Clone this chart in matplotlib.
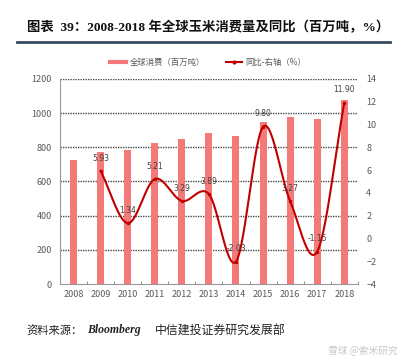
import numpy as np
import matplotlib
matplotlib.use("Agg")
import matplotlib.pyplot as plt
from matplotlib.lines import Line2D

plt.rcParams['font.family'] = ['Noto Sans CJK SC', 'DejaVu Sans']

years = ['2008', '2009', '2010', '2011', '2012', '2013', '2014', '2015', '2016', '2017', '2018']
consumption = [727, 773, 782, 823, 847, 884, 864, 950, 979, 966, 1079]
yoy_years = ['2009', '2010', '2011', '2012', '2013', '2014', '2015', '2016', '2017', '2018']
yoy = [5.93, 1.34, 5.21, 3.29, 3.89, -2.03, 9.80, 3.27, -1.15, 11.90]
left_ticks = [0, 200, 400, 600, 800, 1000, 1200]
right_ticks = [-4, -2, 0, 2, 4, 6, 8, 10, 12, 14]

bar_color = '#F47A7A'
line_color = '#C00000'
tick_color = '#595959'

fig = plt.figure(figsize=(4.08, 3.6), dpi=100)
ax = fig.add_axes([0.147, 0.211, 0.730, 0.570])
ax2 = ax.twinx()

x = np.arange(len(years))
ax.bar(x, consumption, width=0.26, color=bar_color, zorder=2)
ax.set_xlim(-0.5, len(years) - 0.5)
ax.set_ylim(0, 1200)
ax.set_yticks(left_ticks)
ax.set_xticks(x)
ax.set_xticklabels(years)
ax.set_xticks(np.arange(-0.5, len(years), 1), minor=True)
ax.tick_params(axis='x', which='major', length=0, labelsize=6.5, colors=tick_color, pad=4)
ax.tick_params(axis='x', which='minor', length=2.5, direction='in', color='#808080')
ax.tick_params(axis='y', length=0, labelsize=6.5, colors=tick_color, pad=6)
for v in left_ticks[1:]:
    ax.axhline(v, color='#4a4a4a', lw=1.0, ls=(0, (1, 0.8)), zorder=1)
for s in ['top', 'right']:
    ax.spines[s].set_visible(False)
ax.spines['left'].set_color('#9a9a9a')
ax.spines['bottom'].set_color('#9a9a9a')

# smooth line (Catmull-Rom style Bezier through the data points)
xi = np.array([years.index(y) for y in yoy_years], dtype=float)
yi = np.array(yoy, dtype=float)
px = np.concatenate([[2 * xi[0] - xi[1]], xi, [2 * xi[-1] - xi[-2]]])
py = np.concatenate([[2 * yi[0] - yi[1]], yi, [2 * yi[-1] - yi[-2]]])
sx, sy = [], []
t = np.linspace(0, 1, 30)
for i in range(1, len(px) - 2):
    p0x, p1x, p2x, p3x = px[i - 1:i + 3]
    p0y, p1y, p2y, p3y = py[i - 1:i + 3]
    c1x = p1x + (p2x - p0x) / 6
    c1y = p1y + (p2y - p0y) / 6
    c2x = p2x - (p3x - p1x) / 6
    c2y = p2y - (p3y - p1y) / 6
    bx = (1 - t) ** 3 * p1x + 3 * (1 - t) ** 2 * t * c1x + 3 * (1 - t) * t ** 2 * c2x + t ** 3 * p2x
    by = (1 - t) ** 3 * p1y + 3 * (1 - t) ** 2 * t * c1y + 3 * (1 - t) * t ** 2 * c2y + t ** 3 * p2y
    sx.extend(bx)
    sy.extend(by)
ax2.plot(sx, sy, color=line_color, lw=1.5, zorder=3)
ax2.plot(xi, yi, ls='none', marker='o', ms=1.5, color=line_color, zorder=3)
for xv, yv in zip(xi, yi):
    ax2.annotate(f'{yv:.2f}', (xv, yv), xytext=(0, 6), textcoords='offset points',
                 ha='center', va='bottom', fontsize=5.5, color='#404040',
                 family=['DejaVu Sans'])
ax2.set_ylim(-4, 14)
ax2.set_yticks(right_ticks)
ax2.tick_params(axis='y', length=0, labelsize=6.5, colors=tick_color, pad=6)
for s in ['top', 'left', 'right', 'bottom']:
    ax2.spines[s].set_visible(False)
ax.set_zorder(1)
ax2.set_zorder(2)
ax2.patch.set_visible(False)

# legend
handles = [Line2D([0], [0], color=bar_color, lw=3),
           Line2D([0], [0], color=line_color, lw=1.5, marker='o', ms=2)]
fig.legend(handles, ['全球消费（百万吨）', '同比-右轴（%）'], loc='center',
           bbox_to_anchor=(0.51, 0.827), ncol=2, frameon=False, fontsize=6,
           handlelength=2.0, columnspacing=2.5, handletextpad=0.4,
           labelcolor='#595959')

# title
fig.text(0.066, 0.925, '图表  39：2008-2018 年全球玉米消费量及同比（百万吨，%）',
         fontsize=9.6, fontweight='bold', color='#111111', ha='left', va='center',
         family=['Liberation Serif', 'Noto Sans CJK SC'])
fig.add_artist(Line2D([0.042, 0.956], [0.883, 0.883], color='#3A4A5E', lw=2,
                      transform=fig.transFigure))

# source
fig.text(0.066, 0.083, '资料来源：', fontsize=8.1, color='#222222', ha='left', va='center')
fig.text(0.213, 0.083, 'Bloomberg', fontsize=8.5, style='italic', fontweight='bold',
         color='#222222', ha='left', va='center', family=['Liberation Serif'])
fig.text(0.380, 0.083, '中信建投证券研究发展部', fontsize=8.6, color='#222222',
         ha='left', va='center')
fig.text(0.975, 0.025, '雪球 @索米研究', fontsize=7, color='#c8c8c8',
         ha='right', va='center')

fig.savefig('out.png', dpi=100)
